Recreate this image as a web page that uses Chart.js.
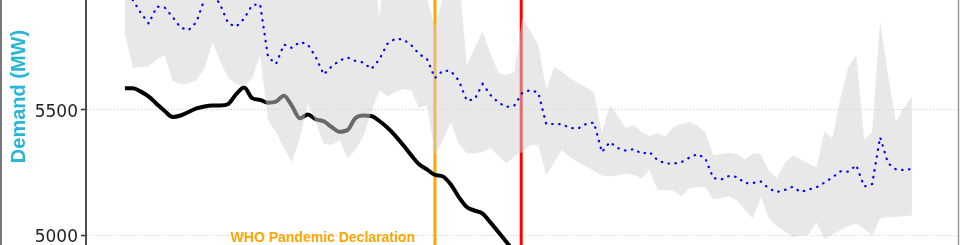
<!DOCTYPE html>
<html>
<head>
<meta charset="utf-8">
<script src="https://cdn.jsdelivr.net/npm/chart.js@4.4.1/dist/chart.umd.min.js"></script>
<style>
  html, body { margin: 0; padding: 0; background: #fff; }
  #wrap { width: 960px; height: 245px; position: relative; }
</style>
</head>
<body>
<div id="wrap"><canvas id="demandChart"></canvas></div>
<script>
// day index from the start of the window
const days = [
  0, 1, 2, 3, 4, 5, 6, 7, 8, 9, 10, 11, 12, 13, 14, 15, 16, 17, 18, 19,
  20, 21, 22, 23, 24, 25, 26, 27, 28, 29, 30, 31, 32, 33, 34, 35, 36, 37, 38, 39,
  40, 41, 42, 43, 44, 45, 46, 47, 48, 49, 50, 51, 52, 53, 54, 55, 56, 57, 58, 59,
  60, 61, 62, 63, 64, 65, 66, 67, 68, 69, 70, 71, 72, 73, 74, 75, 76, 77, 78, 79,
  80, 81, 82, 83, 84, 85, 86, 87, 88, 89, 90, 91, 92, 93, 94, 95, 96, 97, 98, 99
];

// observed demand (MW) - runs off the bottom after the lockdown
const observed = [
  5586, 5586, 5573, 5553, 5524, 5496, 5472, 5478, 5492, 5506,
  5514, 5518, 5518, 5524, 5563, 5589, 5547, 5540, 5529, 5533,
  5557, 5516, 5467, 5482, 5463, 5455, 5432, 5413, 5420, 5468,
  5478, 5476, 5456, 5430, 5398, 5360, 5320, 5284, 5263, 5241,
  5235, 5203, 5153, 5113, 5099, 5087, 5051, 5013, 4974, 4934
];

// expected demand (MW)
const forecast = [
  5986, 5938, 5886, 5844, 5912, 5908, 5870, 5828, 5818, 5850,
  5942, 5970, 5918, 5844, 5832, 5864, 5918, 5921, 5711, 5683,
  5761, 5747, 5771, 5761, 5711, 5641, 5673, 5697, 5709, 5695,
  5689, 5663, 5701, 5763, 5784, 5781, 5759, 5723, 5703, 5627,
  5657, 5655, 5617, 5537, 5543, 5603, 5559, 5529, 5512, 5518,
  5569, 5579, 5569, 5444, 5444, 5443, 5428, 5426, 5444, 5450,
  5332, 5372, 5348, 5338, 5344, 5326, 5332, 5300, 5287, 5286,
  5292, 5310, 5324, 5308, 5229, 5223, 5237, 5233, 5208, 5209,
  5215, 5187, 5173, 5181, 5194, 5173, 5183, 5192, 5211, 5231,
  5255, 5254, 5280, 5195, 5205, 5391, 5288, 5263, 5261, 5265
];

// uncertainty band (MW)
const bandUpper = [
  6050, 6080, 6060, 6040, 6070, 6090, 6050, 6020, 6010, 6040,
  6080, 6100, 6070, 6030, 6020, 6050, 6090, 6100, 6060, 6030,
  6050, 6040, 6020, 6010, 6030, 6040, 6020, 6000, 6010, 6030,
  6000, 6177, 5866, 6177, 6058, 6058, 6058, 6018, 5946, 5830,
  5946, 6058, 6038, 5679, 5747, 5812, 5723, 5647, 5639, 5652,
  5866, 5814, 5759, 5579, 5671, 5651, 5627, 5607, 5591, 5571,
  5408, 5520, 5476, 5428, 5440, 5412, 5396, 5408, 5394, 5432,
  5444, 5452, 5436, 5413, 5320, 5324, 5329, 5324, 5303, 5328,
  5324, 5257, 5229, 5287, 5320, 5304, 5286, 5271, 5413, 5387,
  5547, 5671, 5719, 5380, 5412, 5852, 5639, 5452, 5508, 5553
];
const bandLower = [
  5805, 5667, 5671, 5673, 5701, 5720, 5615, 5603, 5605, 5619,
  5663, 5771, 5691, 5627, 5603, 5593, 5627, 5719, 5460, 5412,
  5348, 5292, 5388, 5524, 5452, 5366, 5360, 5380, 5308, 5340,
  5396, 5492, 5579, 5555, 5571, 5583, 5579, 5508, 5520, 5320,
  5380, 5452, 5364, 5328, 5328, 5332, 5348, 5316, 5288, 5316,
  5332, 5360, 5360, 5241, 5292, 5340, 5312, 5292, 5274, 5257,
  5239, 5235, 5239, 5247, 5241, 5229, 5261, 5181, 5181, 5179,
  5155, 5189, 5192, 5192, 5143, 5149, 5155, 5139, 5101, 5069,
  5153, 5069, 5037, 5017, 4994, 4998, 5005, 5053, 4986, 5004,
  5021, 5037, 5049, 5025, 4999, 5068, 5073, 5075, 5077, 5081
];

const yTicks = [5000, 5500];
const whoDay = 39;        // WHO pandemic declaration
const lockdownDay = 49.85;

const pts = (arr) => arr.map((v, i) => ({ x: days[i], y: v }));

// vertical event lines + text annotations
const annotations = {
  id: 'annotations',
  beforeDatasetsDraw(chart) {
    const { ctx, chartArea: a, scales: { x } } = chart;
    ctx.save();
    ctx.lineWidth = 3;
    [[whoDay, '#FFA500'], [lockdownDay, '#FF0000']].forEach(([d, c]) => {
      const px = x.getPixelForValue(d);
      ctx.strokeStyle = c;
      ctx.beginPath();
      ctx.moveTo(px, a.top);
      ctx.lineTo(px, a.bottom);
      ctx.stroke();
    });
    ctx.restore();
  },
  afterDraw(chart) {
    const { ctx, chartArea: a, scales: { x, y } } = chart;
    ctx.save();
    ctx.fillStyle = '#FFA500';
    ctx.font = 'bold 14px "Liberation Sans", Arial, sans-serif';
    ctx.textAlign = 'right';
    ctx.textBaseline = 'alphabetic';
    ctx.fillText('WHO Pandemic Declaration', x.getPixelForValue(whoDay) - 20, y.getPixelForValue(4975));

    // frame
    ctx.lineWidth = 2;
    ctx.strokeStyle = '#777';
    ctx.beginPath();
    ctx.moveTo(1, 0);
    ctx.lineTo(1, chart.height);
    ctx.stroke();
    ctx.lineWidth = 1.5;
    ctx.strokeStyle = '#999';
    ctx.beginPath();
    ctx.moveTo(a.right + 0.5, 0);
    ctx.lineTo(a.right + 0.5, chart.height);
    ctx.stroke();

    // y axis title
    ctx.translate(19, 96.5);
    ctx.rotate(-Math.PI / 2);
    ctx.textAlign = 'center';
    ctx.textBaseline = 'middle';
    ctx.fillStyle = '#29B6D6';
    ctx.font = 'bold 20px "Liberation Sans", Arial, sans-serif';
    ctx.fillText('Demand (MW)', 0, 0);
    ctx.restore();
  }
};

new Chart(document.getElementById('demandChart'), {
  type: 'line',
  data: {
    datasets: [
      {
        label: 'Observed',
        data: pts(observed),
        borderColor: '#000',
        borderWidth: 4,
        pointRadius: 0,
        cubicInterpolationMode: 'monotone',
        fill: false,
        order: 3
      },
      {
        label: 'Upper',
        data: pts(bandUpper),
        borderWidth: 0,
        borderColor: 'rgba(0,0,0,0)',
        pointRadius: 0,
        backgroundColor: 'rgba(210,210,210,0.5)',
        fill: '+1',
        order: 2
      },
      {
        label: 'Lower',
        data: pts(bandLower),
        borderWidth: 0,
        borderColor: 'rgba(0,0,0,0)',
        pointRadius: 0,
        fill: false,
        order: 2
      },
      {
        label: 'Expected',
        data: pts(forecast),
        borderColor: '#0000FF',
        borderWidth: 2.2,
        borderDash: [0.5, 6.5],
        borderCapStyle: 'round',
        pointRadius: 0,
        fill: false,
        order: 1
      }
    ]
  },
  options: {
    responsive: true,
    maintainAspectRatio: false,
    devicePixelRatio: 1,
    animation: false,
    events: [],
    layout: { padding: { left: 0, right: 2, top: 0, bottom: 0 } },
    plugins: {
      legend: { display: false },
      tooltip: { enabled: false }
    },
    scales: {
      x: {
        type: 'linear',
        min: -4.9,
        max: 104.8,
        display: false
      },
      y: {
        min: 4962,
        max: 5938,
        afterBuildTicks: (s) => { s.ticks = yTicks.map(v => ({ value: v })); },
        afterFit: (s) => { s.width = 86; s.paddingTop = 0; s.paddingBottom = 0; },
        ticks: {
          callback: (v) => String(v),
          color: '#222',
          font: { family: '"DejaVu Sans"', size: 17 },
          padding: 3,
          labelOffset: 2.5
        },
        grid: {
          color: '#cccccc',
          lineWidth: 1,
          tickLength: 5,
          tickColor: '#333',
          tickWidth: 1.5,
          tickBorderDash: []
        },
        border: { display: true, color: '#4d4d4d', width: 2, dash: [1, 2] }
      }
    }
  },
  plugins: [annotations]
});
</script>
</body>
</html>
